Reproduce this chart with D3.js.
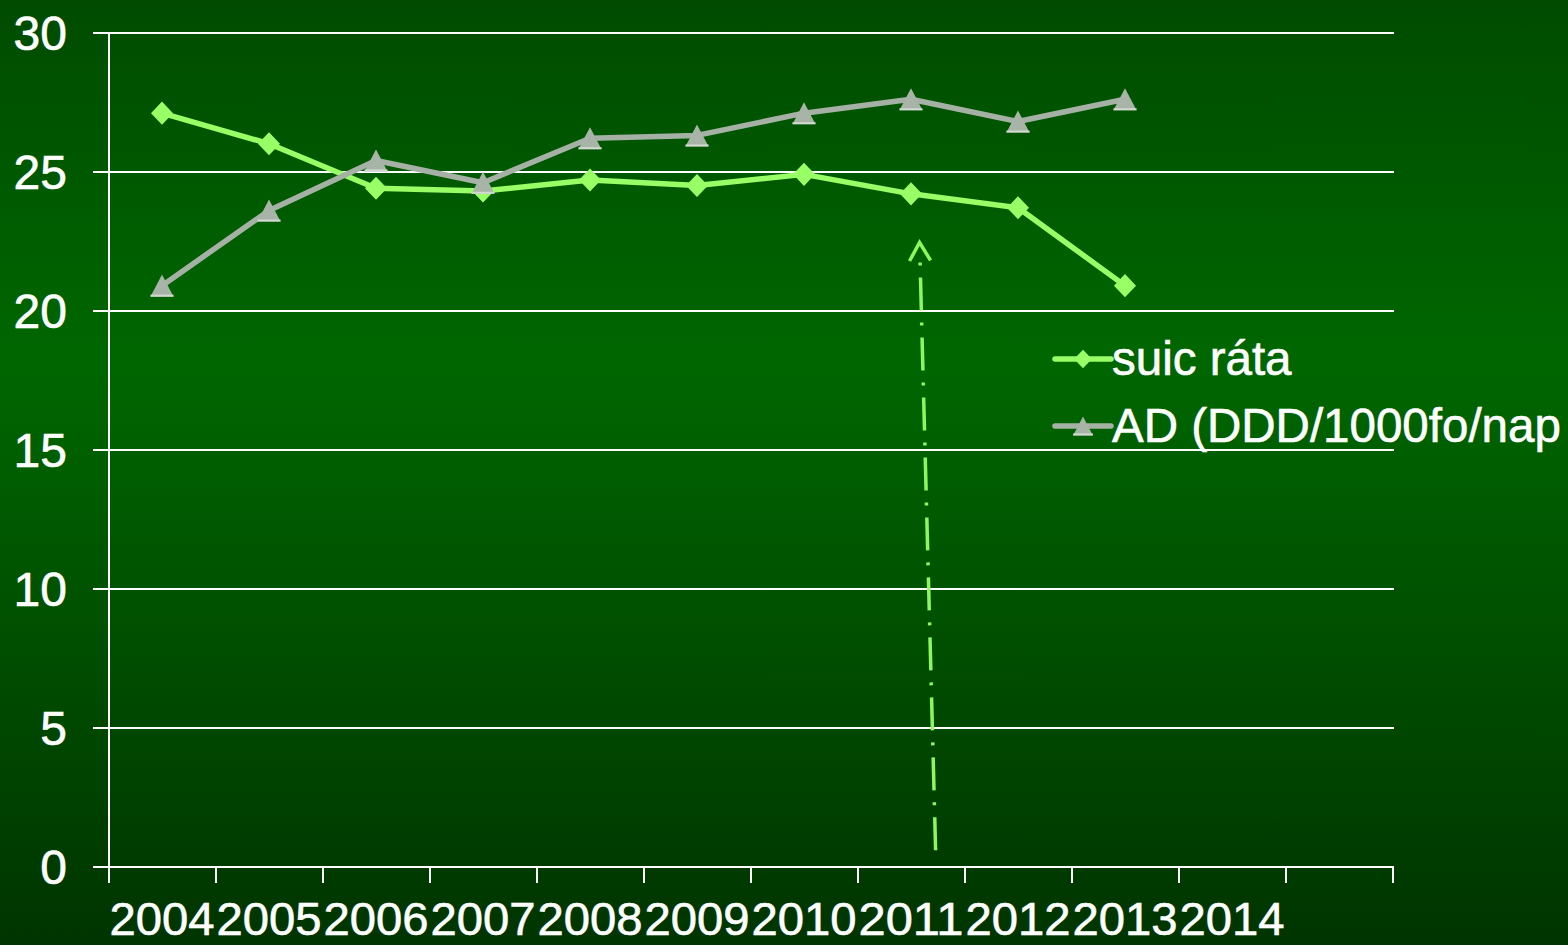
<!DOCTYPE html>
<html>
<head>
<meta charset="utf-8">
<script src="https://cdn.jsdelivr.net/npm/d3@7/dist/d3.min.js"></script>
<style>
  html, body { margin: 0; padding: 0; background: #004c00; overflow: hidden; }
  svg { display: block; }
  text { font-family: "Liberation Sans", Arial, sans-serif; fill: #ffffff; stroke: #ffffff; stroke-width: 0.6px; }
</style>
</head>
<body>
<svg id="chart" width="1568" height="945"></svg>
<script>
// Year categories on the horizontal axis (the last slot is left unlabelled)
const categories = ["2004", "2005", "2006", "2007", "2008", "2009", "2010", "2011", "2012", "2013", "2014", ""];

// Suicide rate per year
const suicRate = [27.1, 26.0, 24.4, 24.3, 24.7, 24.5, 24.9, 24.2, 23.7, 20.9];
// Antidepressant use, DDD/1000 inhabitants/day
const adUse = [20.9, 23.6, 25.4, 24.6, 26.2, 26.3, 27.1, 27.6, 26.8, 27.6];

const yTicks = [0, 5, 10, 15, 20, 25, 30];

const seriesNames = ["suic ráta", "AD (DDD/1000fo/nap"];

// Annotation arrow, in (category position, value) units: tail then head
const arrowTail = { pos: 7.23, value: 0.6 };
const arrowHead = { pos: 7.08, value: 22.45 };

const W = 1568, H = 945;
const svg = d3.select("#chart");

// Background gradient
const defs = svg.append("defs");
const grad = defs.append("linearGradient")
  .attr("id", "bg").attr("x1", 0).attr("y1", 0).attr("x2", 0).attr("y2", 1);
grad.append("stop").attr("offset", "0%").attr("stop-color", "#004b00");
grad.append("stop").attr("offset", "38%").attr("stop-color", "#006700");
grad.append("stop").attr("offset", "100%").attr("stop-color", "#003400");
svg.append("rect").attr("width", W).attr("height", H).attr("fill", "url(#bg)");

// Scales
const x = d3.scaleBand().domain(categories).range([108.5, 1392.5]).paddingInner(0).paddingOuter(0);
const y = d3.scaleLinear().domain([0, 30]).range([867, 32.5]);
const step = x.step();
const xPos = p => x.range()[0] + (p + 0.5) * step;
const px = v => Math.round(v);

const axisG = svg.append("g").attr("shape-rendering", "crispEdges");

// Horizontal gridlines (extending left as tick marks)
axisG.append("g").selectAll("line").data(yTicks).join("line")
  .attr("x1", 93).attr("x2", 1394)
  .attr("y1", d => px(y(d))).attr("y2", d => px(y(d)))
  .attr("stroke", "#ffffff").attr("stroke-width", 2);

// Vertical axis line
axisG.append("line")
  .attr("x1", px(x.range()[0])).attr("x2", px(x.range()[0]))
  .attr("y1", px(y(30))).attr("y2", px(y(0)))
  .attr("stroke", "#ffffff").attr("stroke-width", 2);

// Category boundary ticks below the baseline
const boundaries = categories.map(c => x(c)).concat([x.range()[1]]);
axisG.append("g").selectAll("line").data(boundaries).join("line")
  .attr("x1", d => px(d)).attr("x2", d => px(d))
  .attr("y1", px(y(0))).attr("y2", px(y(0)) + 16)
  .attr("stroke", "#ffffff").attr("stroke-width", 2);

// Y tick labels
svg.append("g").selectAll("text").data(yTicks).join("text")
  .attr("x", 67).attr("y", d => y(d)).attr("dy", "0.36em")
  .attr("text-anchor", "end").attr("font-size", 48)
  .text(d => d);

// X category labels, each filling its band
svg.append("g").selectAll("text").data(categories.filter(c => c !== "")).join("text")
  .attr("x", d => x(d) + x.bandwidth() / 2).attr("y", 935)
  .attr("text-anchor", "middle").attr("font-size", 46)
  .attr("textLength", 105).attr("lengthAdjust", "spacingAndGlyphs")
  .text(d => d);

// Marker shapes
const diamondPath = s => `M0,${-11 * s}L${10.5 * s},0L0,${11 * s}L${-10.5 * s},0Z`;
const trianglePath = s => `M0,${-10.5 * s}L${11 * s},${10.5 * s}L${-11 * s},${10.5 * s}Z`;

const greenCol = "#99ff66";
const grayLine = "#a6b1a6";
const grayFill = "#a9b4a9";
const grayEdge = "#d2dad2";

function drawTriangle(g, s) {
  g.append("path").attr("d", trianglePath(s)).attr("fill", grayFill);
  g.append("line")
    .attr("x1", -11 * s).attr("x2", 11 * s)
    .attr("y1", 10.5 * s - 1).attr("y2", 10.5 * s - 1)
    .attr("stroke", grayEdge).attr("stroke-width", 2);
}

const line = d3.line()
  .x((d, i) => x(categories[i]) + x.bandwidth() / 2)
  .y(d => y(d));

// Suicide rate series
svg.append("path").datum(suicRate)
  .attr("d", line).attr("fill", "none")
  .attr("stroke", greenCol).attr("stroke-width", 5.5).attr("stroke-linejoin", "round");
svg.append("g").selectAll("path").data(suicRate).join("path")
  .attr("transform", (d, i) => `translate(${x(categories[i]) + x.bandwidth() / 2},${y(d)})`)
  .attr("d", diamondPath(1.05)).attr("fill", greenCol);

// Antidepressant series
svg.append("path").datum(adUse)
  .attr("d", line).attr("fill", "none")
  .attr("stroke", grayLine).attr("stroke-width", 5.5).attr("stroke-linejoin", "round");
svg.append("g").selectAll("g").data(adUse).join("g")
  .attr("transform", (d, i) => `translate(${x(categories[i]) + x.bandwidth() / 2},${y(d)})`)
  .each(function () { drawTriangle(d3.select(this), 1.05); });

// Dash-dot annotation arrow
const ax1 = xPos(arrowTail.pos), ay1 = y(arrowTail.value);
const ax2 = xPos(arrowHead.pos), ay2 = y(arrowHead.value);
const len = Math.hypot(ax2 - ax1, ay2 - ay1);
const ux = (ax2 - ax1) / len, uy = (ay2 - ay1) / len;
const arrowCol = "#8ef75e";
svg.append("line")
  .attr("x1", ax1).attr("y1", ay1)
  .attr("x2", ax2 - ux * 17).attr("y2", ay2 - uy * 17)
  .attr("stroke", arrowCol).attr("stroke-width", 3.5)
  .attr("stroke-dasharray", "33 12 3 12");
const ang = Math.atan2(uy, ux);
const wing = 21, spread = Math.PI / 6;
const w1 = [ax2 - wing * Math.cos(ang - spread), ay2 - wing * Math.sin(ang - spread)];
const w2 = [ax2 - wing * Math.cos(ang + spread), ay2 - wing * Math.sin(ang + spread)];
svg.append("path")
  .attr("d", `M${w1[0]},${w1[1]}L${ax2},${ay2}L${w2[0]},${w2[1]}`)
  .attr("fill", "none").attr("stroke", arrowCol).attr("stroke-width", 3.5)
  .attr("stroke-linejoin", "miter");

// Legend
const legend = svg.append("g");
const legendRows = [
  { name: seriesNames[0], cy: 359, kind: "diamond" },
  { name: seriesNames[1], cy: 426, kind: "triangle" }
];
legendRows.forEach(r => {
  const g = legend.append("g");
  g.append("line").attr("x1", 1055).attr("x2", 1111)
    .attr("y1", r.cy).attr("y2", r.cy)
    .attr("stroke", r.kind === "diamond" ? greenCol : grayLine)
    .attr("stroke-width", 5.5).attr("stroke-linecap", "round");
  const m = g.append("g").attr("transform", `translate(1083,${r.cy})`);
  if (r.kind === "diamond") {
    m.append("path").attr("d", diamondPath(0.85)).attr("fill", greenCol);
  } else {
    drawTriangle(m, 0.9);
  }
  g.append("text").attr("x", 1112).attr("y", r.cy + 16)
    .attr("font-size", 47.5).text(r.name);
});
</script>
</body>
</html>
